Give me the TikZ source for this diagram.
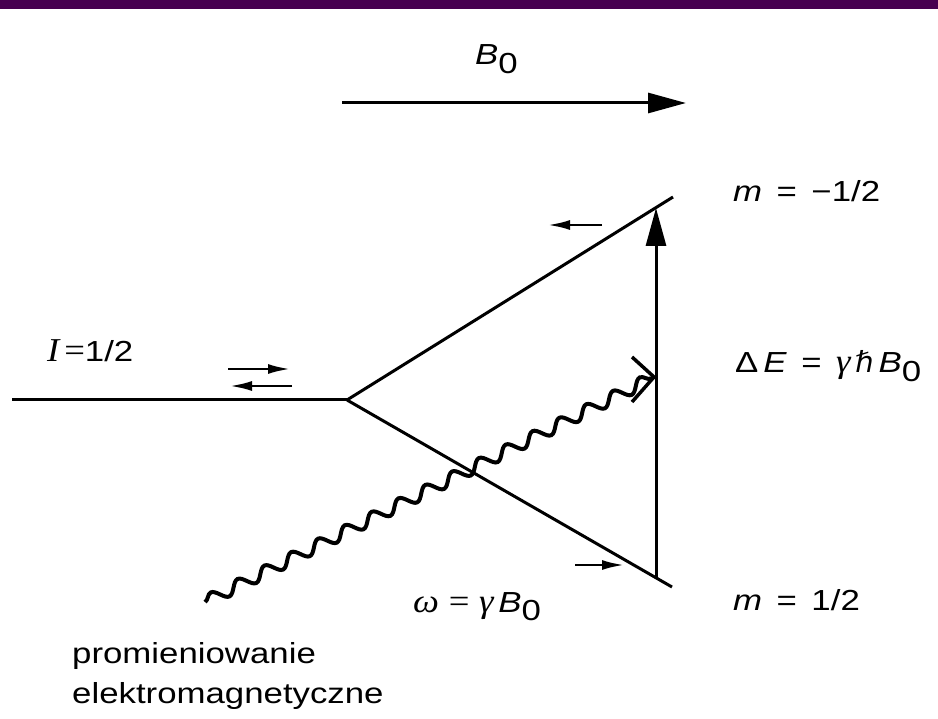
\documentclass[tikz,border=0pt]{standalone}
\usepackage{fontspec}
\setmainfont{Liberation Sans}[FakeStretch=1.2]
\newfontfamily\serifit{Liberation Serif}[FakeStretch=1.1,Scale=1.15]
\newfontfamily\symfont{DejaVu Sans}
\usepackage{tikz}
\usetikzlibrary{arrows.meta,positioning,calc,decorations.pathmorphing}
\definecolor{BarPurple}{RGB}{71,0,80}
\newcommand\lowsub[1]{\raisebox{-0.3em}{#1}}
\newcommand\gr[1]{{\serifit\itshape #1}}

\begin{document}
\begin{tikzpicture}[
  x=1pt, y=-1pt,
  font=\fontsize{29}{40}\selectfont,
  lbl/.style={inner sep=0pt, anchor=base west, align=left},
  level/.style={line width=3pt},
  bigarr/.style={-{Triangle[length=38pt,width=20pt]}, line width=3pt},
  smallarr/.style={-{Latex[length=22pt,width=10pt]}, line width=2.5pt},
  wave/.style={line width=4pt, decorate,
    decoration={snake, amplitude=6pt, segment length=30pt, post length=3pt}},
]
\useasboundingbox (0,0) rectangle (938,719);
\fill[BarPurple] (0,0) rectangle (938,9);

\coordinate (lin) at (12,400);
\coordinate (split) at (347,400);
\coordinate (mup) at (673,197);
\coordinate (mdown) at (672,587);
\coordinate (trbot) at (656,577);
\coordinate (trtop) at (656,208);
\coordinate (b0a) at (342,103);
\coordinate (b0b) at (686,103);
\coordinate (wstart) at (205,602);
\coordinate (wtip) at (654,377);

\draw[level] (lin) -- (split);
\draw[level] (split) -- (mup);
\draw[level] (split) -- (mdown);

\draw[bigarr] (b0a) -- (b0b);
\draw[bigarr] (trbot) -- (trtop);

\draw[smallarr] (228,369) -- (290,369);
\draw[smallarr] (292,386) -- (230,386);
\draw[smallarr] (602,225) -- (548,225);
\draw[smallarr] (575,565) -- (624,565);

\draw[wave] (wstart) -- (wtip);
\draw[line width=3.5pt] ($(wtip)+(-22,-20)$) -- (wtip) -- ($(wtip)+(-22,25)$);

\node[lbl] (b0lbl) at (475,65) {\textit{B}\lowsub{0}};
\node[lbl] (muplbl) at (733,202) {\textit{m}\, =\, −1/2};
\node[lbl] (delbl) at (735,373) {Δ\,\textit{E}\, =\, \gr{γ}\,{\symfont ℏ}\,\textit{B}\lowsub{0}};
\node[lbl] (mdownlbl) at (733,610) {\textit{m}\, =\, 1/2};
\node[lbl] (omlbl) at (413,612) {\gr{ω} {\serifit =} \gr{γ}\,\textit{B}\lowsub{0}};
\node[lbl] (spinlbl) at (47,362) {\gr{I}\,{\serifit =}1/2};
\node[lbl] (emlbl) at (72,703) {promieniowanie\\elektromagnetyczne};
\end{tikzpicture}
\end{document}
